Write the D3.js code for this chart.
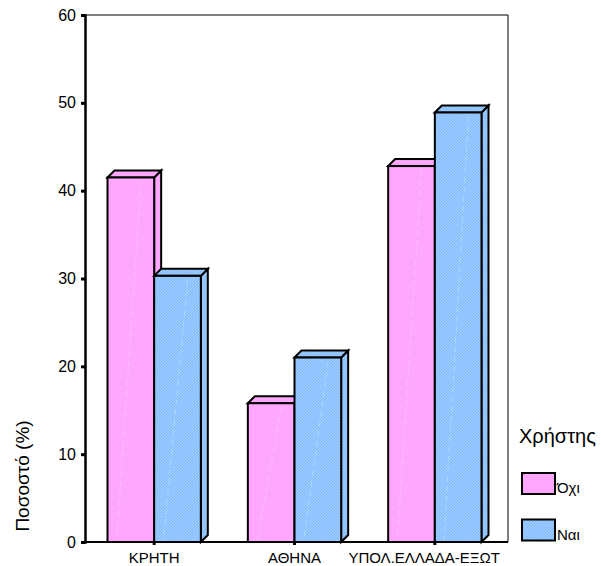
<!DOCTYPE html>
<html>
<head>
<meta charset="utf-8">
<script src="https://cdn.jsdelivr.net/npm/d3@7"></script>
<style>
  html, body { margin: 0; padding: 0; background: #fff; }
  svg { display: block; font-family: Arial, "Liberation Sans", sans-serif; }
</style>
</head>
<body>
<svg id="chart" width="601" height="566"></svg>
<script>
// Percentage of users / non-users per region
const categories = ["ΚΡΗΤΗ", "ΑΘΗΝΑ", "ΥΠΟΛ.ΕΛΛΑΔΑ-ΕΞΩΤ"];
const seriesNames = ["Όχι", "Ναι"];
const valuesOxi = [41.5, 15.8, 42.8];
const valuesNai = [30.3, 21.0, 48.9];
const yTicks = [0, 10, 20, 30, 40, 50, 60];

const seriesValues = [valuesOxi, valuesNai];
const fills = { "Όχι": "url(#hatchPink)", "Ναι": "url(#hatchBlue)" };

const svg = d3.select("#chart");
const plotLeft = 85, plotRight = 508, plotTop = 15, plotBottom = 542;
const depth = 7;

// patterns giving the bars their fine diagonal texture
const defs = svg.append("defs");
const pb = defs.append("pattern").attr("id", "hatchBlue")
  .attr("patternUnits", "userSpaceOnUse").attr("width", 3).attr("height", 3);
pb.append("rect").attr("width", 3).attr("height", 3).attr("fill", "#88c0ff");
pb.append("path").attr("d", "M0,3 L3,0 M-1,1 L1,-1 M2,4 L4,2")
  .attr("stroke", "#acd4ff").attr("stroke-width", 0.8);
const pp = defs.append("pattern").attr("id", "hatchPink")
  .attr("patternUnits", "userSpaceOnUse").attr("width", 3).attr("height", 3);
pp.append("rect").attr("width", 3).attr("height", 3).attr("fill", "#ffa6ff");

const x = d3.scaleBand().domain(categories).range([84, 505])
  .paddingInner(0.335).paddingOuter(0.1675).align(0.5);
const xs = d3.scaleBand().domain(seriesNames).range([0, x.bandwidth()]);
const y = d3.scaleLinear().domain([0, 60]).range([plotBottom, plotTop]);

// frame
svg.append("line").attr("x1", plotLeft).attr("x2", plotRight).attr("y1", plotTop).attr("y2", plotTop)
  .attr("stroke", "#000").attr("stroke-width", 1.2);
svg.append("line").attr("x1", plotRight).attr("x2", plotRight).attr("y1", plotTop).attr("y2", plotBottom)
  .attr("stroke", "#000").attr("stroke-width", 1);

// bars, drawn in order so later bars overlap earlier side faces
const bars = [];
categories.forEach((c, i) => {
  seriesNames.forEach((s, j) => {
    bars.push({ c, s, v: seriesValues[j][i] });
  });
});

const g = svg.append("g");
bars.forEach(d => {
  const x0 = x(d.c) + xs(d.s);
  const x1 = x0 + xs.bandwidth();
  const y0 = y(d.v);
  const yb = y(0);
  const bg = g.append("g").attr("stroke", "#000").attr("stroke-width", 2)
    .attr("stroke-linejoin", "miter");
  // side face
  bg.append("path")
    .attr("d", `M${x1},${yb} L${x1 + depth},${yb - depth} L${x1 + depth},${y0 - depth} L${x1},${y0} Z`)
    .attr("fill", fills[d.s]);
  // top face
  bg.append("path")
    .attr("d", `M${x0},${y0} L${x0 + depth},${y0 - depth} L${x1 + depth},${y0 - depth} L${x1},${y0} Z`)
    .attr("fill", fills[d.s]);
  // front face
  bg.append("rect").attr("x", x0).attr("y", y0).attr("width", x1 - x0).attr("height", yb - y0)
    .attr("fill", fills[d.s]);
  // faint highlight streak on the front face
  bg.append("line")
    .attr("x1", x0 + (x1 - x0) * 0.72).attr("y1", y0 + 4)
    .attr("x2", x0 + (x1 - x0) * 0.2).attr("y2", yb - 2)
    .attr("stroke", "#ffffff").attr("stroke-opacity", 0.35).attr("stroke-width", 0.8)
    .attr("stroke-dasharray", "6,4");
});

// y axis
const yAxis = d3.axisLeft(y).tickValues(yTicks).tickSize(4).tickPadding(5).tickFormat(d3.format("d"));
const ya = svg.append("g").attr("transform", `translate(${plotLeft},0)`).call(yAxis);
ya.select(".domain").attr("stroke", "#000").attr("stroke-width", 2.5);
ya.selectAll(".tick line").attr("stroke", "#000").attr("stroke-width", 3);
ya.selectAll(".tick text").attr("font-size", 16).attr("fill", "#000")
  .attr("font-family", "Arial, 'Liberation Sans', sans-serif");

// x axis
const xAxis = d3.axisBottom(x).tickSize(3).tickPadding(7);
const xa = svg.append("g").attr("transform", `translate(0,${plotBottom})`).call(xAxis);
xa.select(".domain").remove();
xa.selectAll(".tick line").attr("stroke", "#000").attr("stroke-width", 3);
xa.selectAll(".tick text").attr("font-size", 15).attr("fill", "#000")
  .attr("font-family", "Arial, 'Liberation Sans', sans-serif");
// keep long labels from running past the plot's right edge
xa.selectAll(".tick").each(function(d) {
  const t = d3.select(this).select("text");
  const w = t.node().getComputedTextLength();
  const rightEdge = x(d) + x.bandwidth() / 2 + w / 2;
  const limit = plotRight - 8;
  if (rightEdge > limit) t.attr("dx", limit - rightEdge);
});
svg.append("line").attr("x1", plotLeft).attr("x2", plotRight).attr("y1", plotBottom).attr("y2", plotBottom)
  .attr("stroke", "#000").attr("stroke-width", 2);

// y title
svg.append("text").attr("transform", "translate(29,476) rotate(-90)")
  .attr("text-anchor", "middle").attr("font-size", 19).attr("fill", "#000")
  .text("Ποσοστό (%)");

// legend
svg.append("text").attr("x", 519).attr("y", 443).attr("font-size", 20).attr("fill", "#000")
  .text("Χρήστης");
const leg = svg.append("g");
seriesNames.forEach((s, i) => {
  const ly = 473 + i * 46.5;
  leg.append("rect").attr("x", 522).attr("y", ly).attr("width", 33).attr("height", 21)
    .attr("fill", fills[s]).attr("stroke", "#000").attr("stroke-width", 2);
  leg.append("text").attr("x", 557).attr("y", ly + 20).attr("font-size", 15).attr("fill", "#000")
    .text(s);
});
</script>
</body>
</html>
